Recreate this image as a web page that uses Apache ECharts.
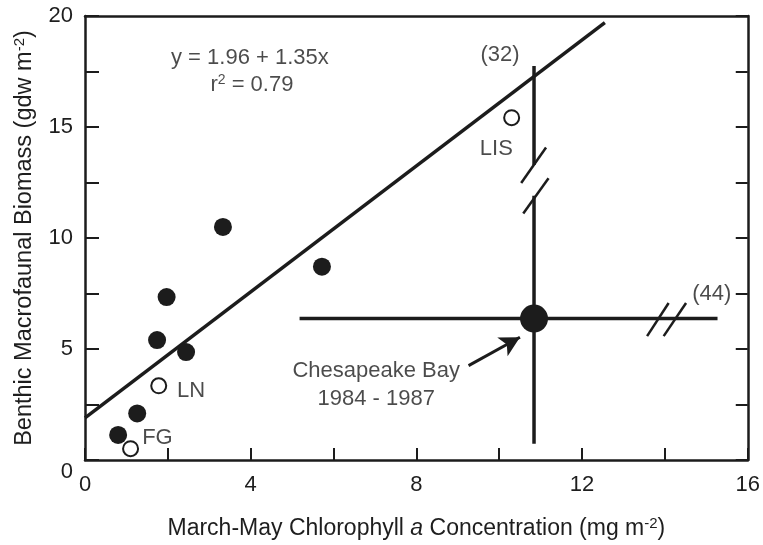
<!DOCTYPE html>
<html>
<head>
<meta charset="utf-8">
<script src="https://cdn.jsdelivr.net/npm/echarts@6/dist/echarts.min.js"></script>
<style>
html, body { margin:0; padding:0; background:#fff; }
#chart { width:763px; height:545px; }
</style>
</head>
<body>
<div id="chart"></div>
<script>
// 측정 지점 (chl a, biomass)
var filled_pts = [[0.80,1.13],[1.26,2.10],[1.74,5.40],[1.97,7.34],[2.44,4.86],[3.33,10.5],[5.72,8.71]];
var open_pts = [[1.10,0.51],[1.78,3.34],[10.30,15.42]];
var bay_pt = [[10.84,6.37]];

// 회귀선 양 끝점
var fit_line = [[0,1.9],[12.55,19.7]];

// Chesapeake Bay 범위 막대
var err_v_top = [[10.84,17.75],[10.84,13.29]];
var err_v_bottom = [[10.84,11.9],[10.84,0.73]];
var err_h = [[5.18,6.37],[15.27,6.37]];
var break_marks = [
	[[10.53,12.48],[11.13,14.08]],
	[[10.58,11.10],[11.19,12.69]],
	[[13.57,5.58],[14.09,7.07]],
	[[13.97,5.58],[14.51,7.07]]
];
var arrow_line = [[9.26,4.25],[10.5,5.53]];

// 텍스트 주석
var note_texts = ['y = 1.96 + 1.35x', 'r{sup|2} = 0.79', '(32)', '(44)', 'LIS', 'LN', 'FG', 'Chesapeake Bay', '1984 - 1987'];
var note_pos = [[3.98,18.12],[4.03,16.9],[10.02,18.25],[15.13,7.47],[9.93,14.0],[2.22,3.13],[1.38,1.0],[7.03,4.03],[7.03,2.73]];
var note_align = ['center','center','center','center','center','left','left','center','center'];

var x_label_vals = [0,4,8,12,16];
var y_label_vals = [0,5,10,15,20];

var ink = '#1c1c1c';
var txt = '#1e1e1e';
var font = 'Liberation Sans';

function seg_series(pts, width) { // 두 점 선분
	return {
		type:'line', data:pts, symbol:'none', silent:true, z:3,
		lineStyle:{ color:ink, width:width },
		animation:false
	};
}

function draw_chart() {
	var myChart = echarts.init(document.getElementById('chart'));
	var series = [];

	series.push(seg_series(fit_line, 3.5));
	series.push(seg_series(err_v_top, 3.5));
	series.push(seg_series(err_v_bottom, 3.5));
	series.push(seg_series(err_h, 3.5));
	for (var i = 0; i < break_marks.length; i++) {
		series.push(seg_series(break_marks[i], 2.5));
	}

	// 화살표
	series.push({
		type:'line', data:[], silent:true, animation:false,
		markLine:{
			silent:true, animation:false,
			symbol:['none','arrow'], symbolSize:[16,20],
			label:{ show:false },
			lineStyle:{ color:ink, width:3, type:'solid' },
			data:[[{ coord:arrow_line[0] },{ coord:arrow_line[1] }]]
		}
	});

	series.push({
		type:'scatter', data:filled_pts, symbol:'circle', symbolSize:18, z:5,
		itemStyle:{ color:ink, opacity:1 }, animation:false
	});
	series.push({
		type:'scatter', data:open_pts, symbol:'circle', symbolSize:15, z:5,
		itemStyle:{ color:'#fff', borderColor:ink, borderWidth:2, opacity:1 }, animation:false
	});
	series.push({
		type:'scatter', data:bay_pt, symbol:'circle', symbolSize:28, z:6,
		itemStyle:{ color:ink, opacity:1 }, animation:false
	});

	// 주석 텍스트
	var notes = [];
	for (var j = 0; j < note_texts.length; j++) {
		notes.push({
			value:note_pos[j],
			label:{ show:true, position:'inside', formatter:note_texts[j], align:note_align[j] }
		});
	}
	series.push({
		type:'scatter', data:notes, symbolSize:1, z:7, silent:true, animation:false,
		itemStyle:{ color:'rgba(0,0,0,0)' },
		label:{
			color:txt, fontFamily:font, fontSize:22, verticalAlign:'middle',
			rich:{ sup:{ fontSize:14, verticalAlign:'top', padding:[0,0,10,0], fontFamily:font, color:txt } }
		}
	});

	var option = {
		animation:false,
		backgroundColor:'#fff',
		grid:{ left:85, right:10, top:16, bottom:82, containLabel:false },
		xAxis:[
			{
				type:'value', min:0, max:16, interval:2,
				axisLine:{ show:true, onZero:false, lineStyle:{ color:ink, width:2.5 } },
				axisTick:{ show:true, inside:true, length:12, lineStyle:{ color:ink, width:2 } },
				splitLine:{ show:false },
				axisLabel:{
					color:txt, fontFamily:font, fontSize:22, margin:14,
					formatter:function (v) { return x_label_vals.indexOf(v) >= 0 ? String(v) : ''; }
				},
				name:'March-May Chlorophyll {it|a} Concentration (mg m{sup|-2})',
				nameLocation:'middle', nameGap:56,
				nameTextStyle:{
					color:txt, fontFamily:font, fontSize:23,
					rich:{
						it:{ fontStyle:'italic', fontFamily:font, fontSize:23, color:txt },
						sup:{ fontSize:15, verticalAlign:'top', padding:[0,0,10,0], fontFamily:font, color:txt }
					}
				}
			},
			{
				type:'value', position:'top', min:0, max:16, interval:2,
				axisLine:{ show:true, onZero:false, lineStyle:{ color:ink, width:2.5 } },
				axisTick:{ show:false }, axisLabel:{ show:false }, splitLine:{ show:false }
			}
		],
		yAxis:[
			{
				type:'value', min:0, max:20, interval:2.5,
				axisLine:{ show:true, onZero:false, lineStyle:{ color:ink, width:2.5 } },
				axisTick:{ show:true, inside:true, length:14, lineStyle:{ color:ink, width:2 } },
				splitLine:{ show:false },
				axisLabel:{
					color:txt, fontFamily:font, fontSize:22, margin:12,
					formatter:function (v) {
						if (v === 0) return '{z|0}';
						return y_label_vals.indexOf(v) >= 0 ? String(v) : '';
					},
					rich:{ z:{ fontFamily:font, fontSize:22, color:txt, padding:[24,0,0,0] } }
				},
				name:'Benthic Macrofaunal Biomass (gdw m{sup|-2})',
				nameLocation:'middle', nameGap:48,
				nameTextStyle:{
					color:txt, fontFamily:font, fontSize:23.5,
					rich:{ sup:{ fontSize:15, verticalAlign:'top', padding:[0,0,10,0], fontFamily:font, color:txt } }
				}
			},
			{
				type:'value', position:'right', min:0, max:20, interval:2.5,
				axisLine:{ show:true, onZero:false, lineStyle:{ color:ink, width:2.5 } },
				axisTick:{ show:true, inside:true, length:12, lineStyle:{ color:ink, width:2 } },
				axisLabel:{ show:false }, splitLine:{ show:false }
			}
		],
		series:series
	};

	myChart.setOption(option);
}

draw_chart();
</script>
</body>
</html>
